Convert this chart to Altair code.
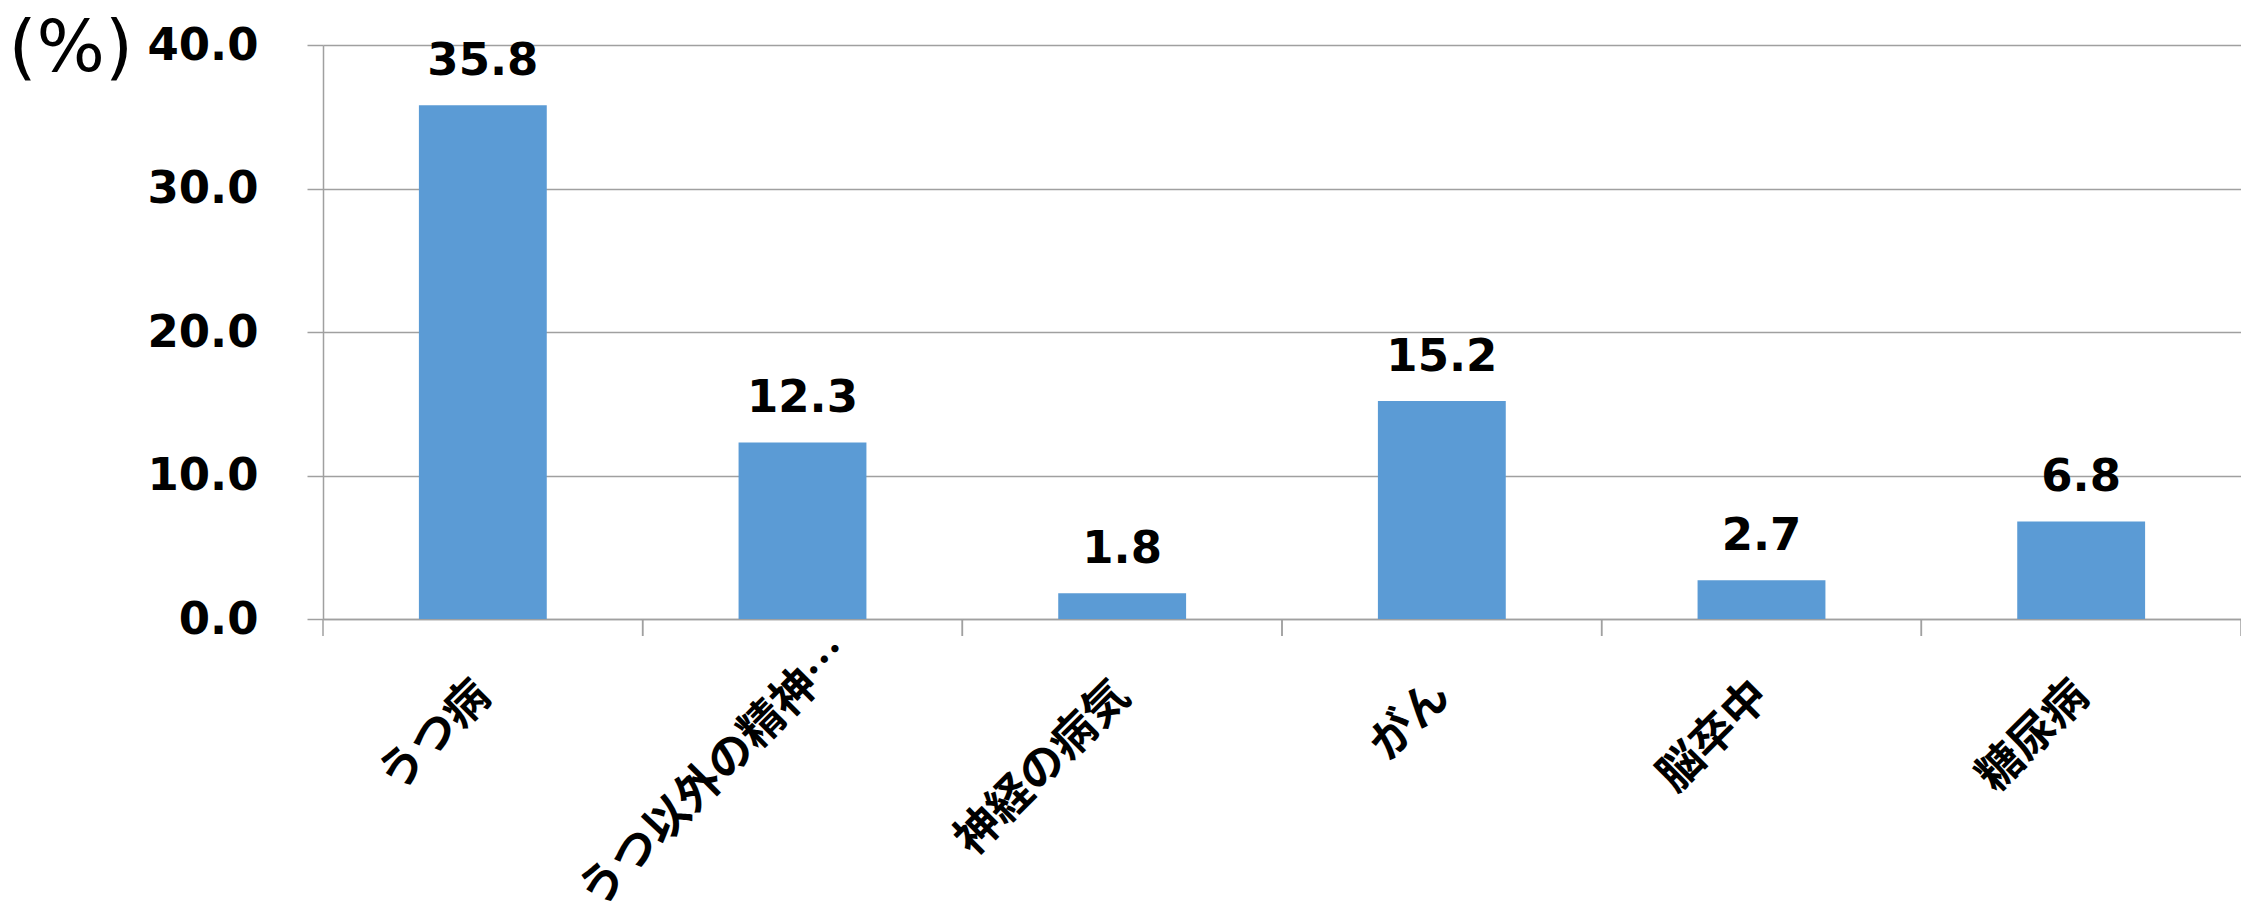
import altair as alt
import pandas as pd

categories = ["うつ病", "うつ以外の精神…", "神経の病気", "がん", "脳卒中", "糖尿病"]
values = [35.8, 12.3, 1.8, 15.2, 2.7, 6.8]
y_ticks = [0, 10, 20, 30, 40]

df = pd.DataFrame({"cat": categories, "val": values})

GRAY = "#A0A0A0"
LONG = "うつ以外の精神…"
PLOT_W = 1918
HALF_GAP = PLOT_W / 6 * 0.3  # half of the gap between bars (band scale padding)

x_axis = alt.Axis(
    title=None,
    labelAngle=-45,
    labelAlign="right",
    labelBaseline="middle",
    labelFont="Noto Sans CJK JP",
    labelFontWeight="bold",
    labelFontSize=45,
    labelColor="black",
    labelLimit=0,
    labelPadding={"condition": {"test": f"datum.value === '{LONG}'", "value": 26}, "value": 69},
    labelOffset={"condition": {"test": f"datum.value === '{LONG}'", "value": 40}, "value": 0},
    ticks=False,
    domainColor=GRAY,
    domainWidth=1.5,
    grid=False,
)

x_enc = alt.X(
    "cat:N",
    sort=categories,
    scale=alt.Scale(paddingInner=0.6, paddingOuter=0.3),
    axis=x_axis,
)

y_enc = alt.Y(
    "val:Q",
    scale=alt.Scale(domain=[0, 40], nice=False),
    axis=alt.Axis(
        title="(%)",
        titleAngle=0,
        titleAlign="left",
        titleBaseline="alphabetic",
        titleX=-315,
        titleY=25,
        titleFont="DejaVu Sans",
        titleFontWeight="normal",
        titleFontSize=72,
        titleColor="black",
        values=y_ticks,
        format=".1f",
        labelFont="DejaVu Sans",
        labelFontWeight="bold",
        labelFontSize=45,
        labelColor="black",
        labelPadding=49,
        tickSize=16,
        tickColor=GRAY,
        tickWidth=1.5,
        domainColor=GRAY,
        domainWidth=1.5,
        grid=True,
        gridColor=GRAY,
        gridWidth=1.5,
    ),
)

base = alt.Chart(df).encode(x=x_enc, y=y_enc)

bars = base.mark_bar(color="#5B9BD5")
labels = base.mark_text(
    font="DejaVu Sans",
    fontWeight="bold",
    fontSize=45,
    dy=-30,
    baseline="alphabetic",
    align="center",
    color="black",
).encode(text=alt.Text("val:Q", format=".1f"))

# category-boundary ticks below the x axis
ticks_left = alt.Chart(df).mark_rule(color=GRAY, strokeWidth=1.5, xOffset=-HALF_GAP).encode(
    x=alt.X("cat:N", sort=categories, bandPosition=0),
    y=alt.value(574),
    y2=alt.value(591),
)
ticks_right = alt.Chart(df).mark_rule(color=GRAY, strokeWidth=1.5, xOffset=HALF_GAP).encode(
    x=alt.X("cat:N", sort=categories, bandPosition=1),
    y=alt.value(574),
    y2=alt.value(591),
)

chart = (
    alt.layer(bars, labels, ticks_left, ticks_right)
    .properties(
        width=PLOT_W,
        height=574,
        autosize="none",
        padding={"left": 323, "top": 45, "right": 0, "bottom": 290},
        background="white",
    )
    .configure_view(stroke=None)
)

chart.save("out.html", embed_options={"renderer": "svg", "actions": False})
